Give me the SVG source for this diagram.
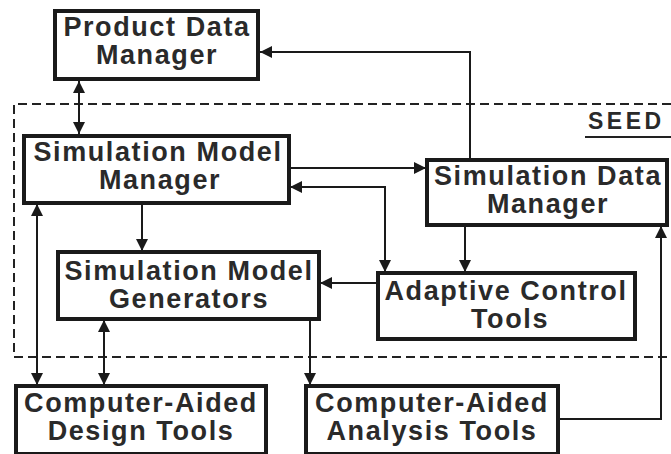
<svg xmlns="http://www.w3.org/2000/svg" width="671" height="454" viewBox="0 0 671 454">
<defs>
<style>
.box{fill:#fff;stroke:#1a1a1a;stroke-width:4}
.t{font-family:"Liberation Sans",Arial,sans-serif;font-weight:bold;font-size:27px;fill:#2a2a2a;text-anchor:middle;letter-spacing:1.6px}
.c{fill:none;stroke:#1a1a1a;stroke-width:2}
.dash{fill:none;stroke:#222;stroke-width:2;stroke-dasharray:9 5}
</style>
<marker id="a" markerUnits="userSpaceOnUse" markerWidth="12" markerHeight="12" viewBox="0 0 12 12" refX="12" refY="6" orient="auto-start-reverse">
<path d="M0,0 L12,6 L0,12 z" fill="#1a1a1a"/>
</marker>
</defs>
<rect width="671" height="454" fill="#fff"/>
<path class="dash" d="M671,104 H14 V357 H671"/>
<text x="588" y="129" style="font-family:'Liberation Sans',Arial,sans-serif;font-weight:bold;font-size:23px;letter-spacing:3.5px;fill:#2a2a2a">SEED</text>
<line x1="585" y1="137" x2="671" y2="137" stroke="#222" stroke-width="2"/>
<g id="connectors">
<path class="c" d="M79,81 V134" marker-start="url(#a)" marker-end="url(#a)"/>
<path class="c" d="M470,159 V52 H260" marker-end="url(#a)"/>
<path class="c" d="M289,168 H426" marker-end="url(#a)"/>
<path class="c" d="M385,272 V187 H290" marker-start="url(#a)" marker-end="url(#a)"/>
<path class="c" d="M465,226 V272" marker-end="url(#a)"/>
<path class="c" d="M142,204 V251" marker-end="url(#a)"/>
<path class="c" d="M376,283 H320" marker-end="url(#a)"/>
<path class="c" d="M37,204 V385" marker-start="url(#a)" marker-end="url(#a)"/>
<path class="c" d="M104,320 V385" marker-start="url(#a)" marker-end="url(#a)"/>
<path class="c" d="M310,320 V385" marker-end="url(#a)"/>
<path class="c" d="M559,419 H661 V226" marker-end="url(#a)"/>
</g>
<g id="pdm">
<rect class="box" x="55" y="11" width="203" height="68"/>
<text class="t" x="157" y="36">Product Data</text>
<text class="t" x="157" y="64">Manager</text>
</g>
<g id="smm">
<rect class="box" x="24" y="136" width="265" height="67"/>
<text class="t" x="158" y="161">Simulation Model</text>
<text class="t" x="160" y="189">Manager</text>
</g>
<g id="sdm">
<rect class="box" x="427" y="160" width="240" height="65"/>
<text class="t" x="548" y="185">Simulation Data</text>
<text class="t" x="548" y="213">Manager</text>
</g>
<g id="smg">
<rect class="box" x="58" y="252" width="261" height="67"/>
<text class="t" x="189" y="280">Simulation Model</text>
<text class="t" x="189" y="308">Generators</text>
</g>
<g id="act">
<rect class="box" x="378" y="273" width="257" height="66"/>
<text class="t" x="506" y="300">Adaptive Control</text>
<text class="t" x="510" y="328">Tools</text>
</g>
<g id="cadt">
<rect class="box" x="16" y="386" width="250" height="68"/>
<text class="t" x="141" y="412">Computer-Aided</text>
<text class="t" x="141" y="440">Design Tools</text>
</g>
<g id="caat">
<rect class="box" x="306" y="386" width="252" height="68"/>
<text class="t" x="432" y="412">Computer-Aided</text>
<text class="t" x="432" y="440">Analysis Tools</text>
</g>
</svg>
